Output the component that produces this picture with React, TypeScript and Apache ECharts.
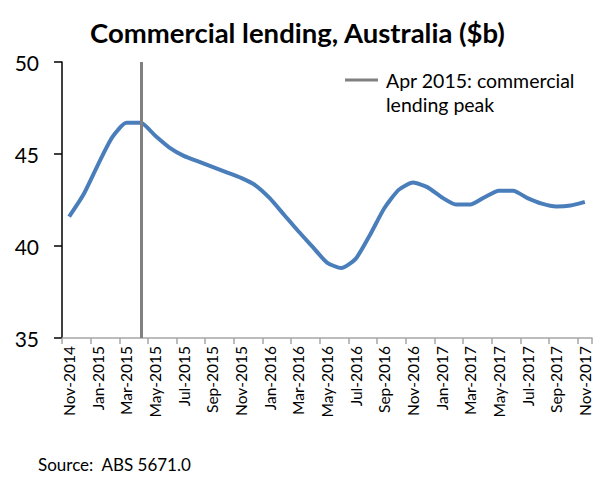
import React, { useEffect, useRef } from "react";
import * as echarts from "echarts";

const months: string[] = [
  "Nov-2014", "Dec-2014", "Jan-2015", "Feb-2015", "Mar-2015", "Apr-2015", "May-2015",
  "Jun-2015", "Jul-2015", "Aug-2015", "Sep-2015", "Oct-2015", "Nov-2015", "Dec-2015",
  "Jan-2016", "Feb-2016", "Mar-2016", "Apr-2016", "May-2016", "Jun-2016", "Jul-2016",
  "Aug-2016", "Sep-2016", "Oct-2016", "Nov-2016", "Dec-2016", "Jan-2017", "Feb-2017",
  "Mar-2017", "Apr-2017", "May-2017", "Jun-2017", "Jul-2017", "Aug-2017", "Sep-2017",
  "Oct-2017", "Nov-2017",
];

const lending: number[] = [
  41.6, 42.8, 44.4, 45.9, 46.7, 46.7, 46.0,
  45.35, 44.9, 44.6, 44.3, 44.0, 43.7, 43.3,
  42.6, 41.7, 40.8, 39.95, 39.1, 38.8, 39.3,
  40.6, 42.05, 43.05, 43.45, 43.2, 42.65, 42.25,
  42.25, 42.65, 43.0, 43.0, 42.6, 42.3, 42.15,
  42.2, 42.4,
];

const peakMonth = "Apr-2015";
const peakLabel = "Apr 2015: commercial";
const peakLabel2 = "lending peak";
const titleText = "Commercial lending, Australia ($b)";
const sourceText = "Source:  ABS 5671.0";

const FONT = "Lato, 'Open Sans', sans-serif";

export default function App() {
  const ref = useRef<HTMLDivElement>(null);
  useEffect(() => {
    document.body.style.margin = "0";
    if (!ref.current) return;
    const chart = echarts.init(ref.current, undefined, { renderer: "svg" });
    chart.setOption({
      animation: false,
      backgroundColor: "#ffffff",
      title: {
        text: titleText,
        left: "center",
        top: 13,
        textStyle: { fontFamily: FONT, fontSize: 27.5, fontWeight: "bold", color: "#000" },
      },
      grid: { left: 62, right: 3, top: 62, bottom: 146, containLabel: false },
      xAxis: {
        type: "category",
        data: months,
        boundaryGap: true,
        axisLine: { show: true, lineStyle: { color: "#a6a6a6", width: 1.5 } },
        axisTick: { show: true, interval: 1, length: 6, lineStyle: { color: "#a6a6a6", width: 1.5 } },
        axisLabel: {
          interval: 1,
          rotate: 90,
          margin: 8,
          showMaxLabel: true,
          fontFamily: FONT,
          fontSize: 15.5,
          color: "#000",
        },
        splitLine: { show: false },
      },
      yAxis: {
        type: "value",
        min: 35,
        max: 50,
        interval: 5,
        axisLine: { show: true, lineStyle: { color: "#000", width: 1.5 } },
        axisTick: { show: true, length: 8, lineStyle: { color: "#000", width: 1.5 } },
        axisLabel: { fontFamily: FONT, fontSize: 21, color: "#000", margin: 23 },
        splitLine: { show: false },
      },
      series: [
        {
          name: "Commercial lending",
          type: "line",
          data: lending,
          smooth: 0.2,
          symbol: "none",
          lineStyle: { color: "#4a7ebb", width: 4 },
          z: 3,
        },
        {
          name: peakLabel + " " + peakLabel2,
          type: "line",
          data: [],
          symbol: "none",
          z: 2,
          markLine: {
            silent: true,
            symbol: ["none", "none"],
            label: { show: false },
            lineStyle: { color: "#808080", width: 3, type: "solid" },
            data: [{ xAxis: peakMonth }],
          },
        },
      ],
      graphic: [
        {
          type: "line",
          shape: { x1: 345, y1: 80, x2: 378, y2: 80 },
          style: { stroke: "#808080", lineWidth: 3 },
        },
        {
          type: "text",
          left: 386,
          top: 68,
          style: {
            text: peakLabel + "\n" + peakLabel2,
            fontFamily: FONT,
            fontSize: 19.5,
            lineHeight: 24,
            fill: "#000",
          },
        },
        {
          type: "text",
          left: 38,
          top: 456,
          style: { text: sourceText, fontFamily: FONT, fontSize: 17, fill: "#000" },
        },
      ],
    });
    return () => chart.dispose();
  }, []);
  return <div ref={ref} style={{ width: 595, height: 484 }} />;
}
